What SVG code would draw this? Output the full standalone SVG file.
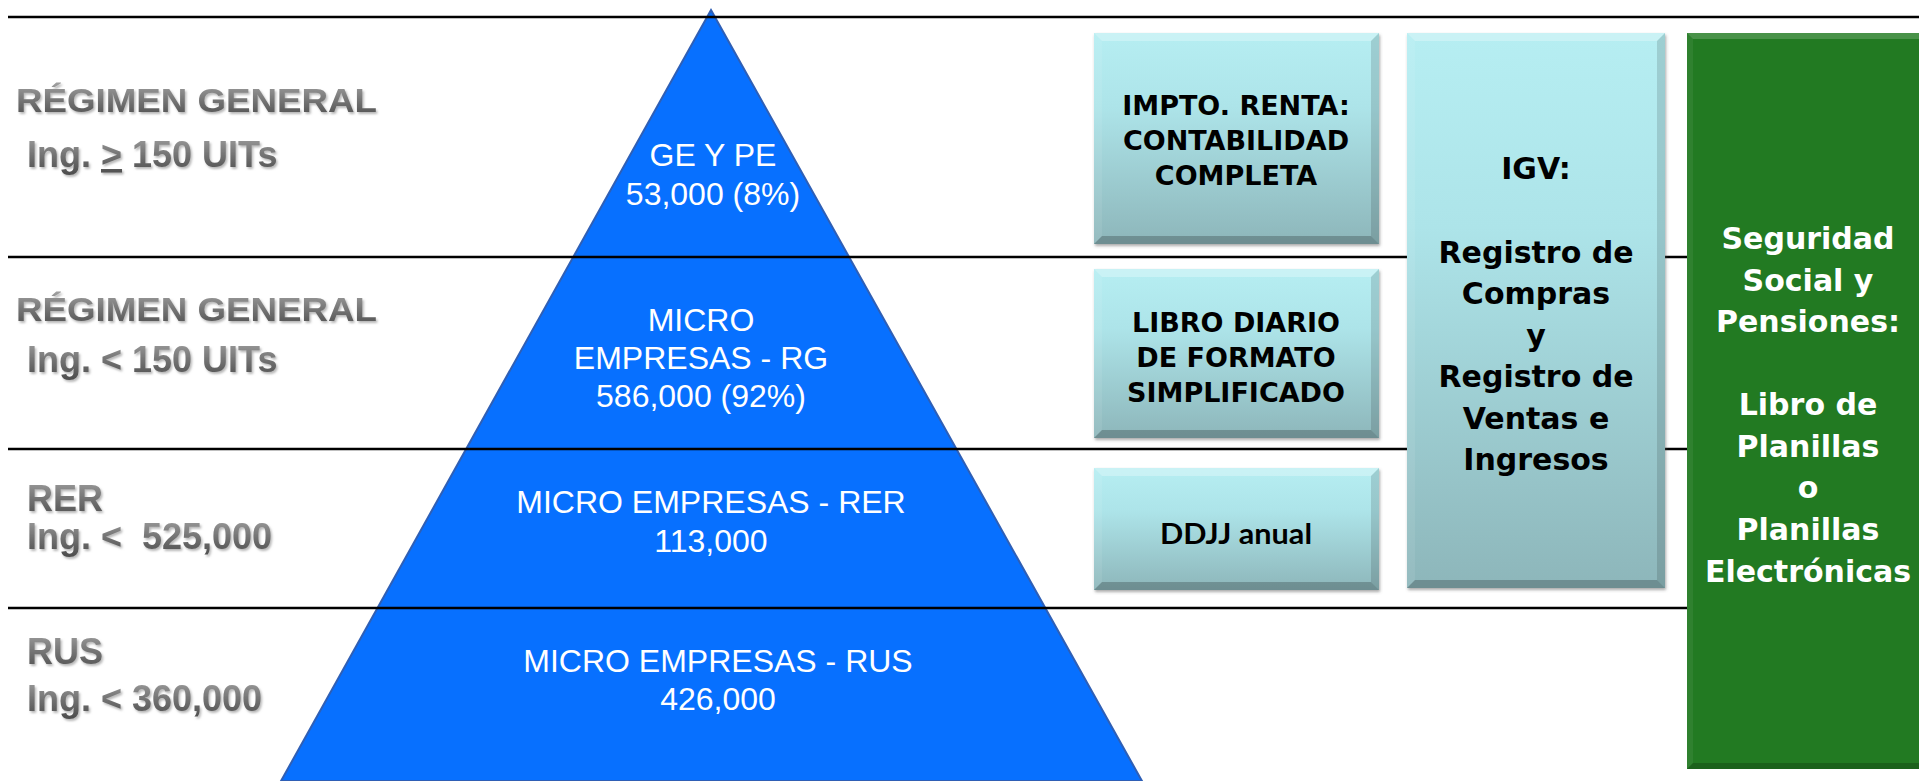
<svg xmlns="http://www.w3.org/2000/svg" width="1919" height="781" viewBox="0 0 1919 781">
<style>
.lbl{font-family:"Liberation Sans",Arial,sans-serif;font-weight:bold;fill:url(#grayGrad);filter:url(#lblShadow)}
.lbl1{font-size:33px}
.lbl2{font-size:36px}
.pyr{font-family:"Liberation Sans",Arial,sans-serif;font-size:32px;fill:#ffffff;text-anchor:middle}
.box{font-family:"DejaVu Sans",Verdana,sans-serif;font-weight:bold;fill:#000000;text-anchor:middle}
.b27{font-size:27px}
.b30{font-size:30px}
.ddjj{font-family:Lato,"Liberation Sans",sans-serif;font-weight:bold;font-size:29px;fill:#000;text-anchor:middle}
.green{font-family:"DejaVu Sans",Verdana,sans-serif;font-weight:bold;font-size:30px;fill:#ffffff;text-anchor:middle}
.sep{stroke:#000;stroke-width:2.5;fill:none}
.cyan{fill:url(#cyanGrad);filter:url(#boxShadow)}
.bt{fill:#ffffff;fill-opacity:0.28}
.bl{fill:#ffffff;fill-opacity:0.08}
.br{fill:#000000;fill-opacity:0.13}
.bb{fill:#000000;fill-opacity:0.22}
</style>
<defs>
<linearGradient id="grayGrad" x1="0" y1="0" x2="0" y2="1">
<stop offset="0" stop-color="#a2a2a2"/>
<stop offset="0.5" stop-color="#747474"/>
<stop offset="1" stop-color="#4c4c4c"/>
</linearGradient>
<linearGradient id="cyanGrad" x1="0" y1="0" x2="0" y2="1">
<stop offset="0" stop-color="#B6EEF2"/>
<stop offset="0.35" stop-color="#ADE4E9"/>
<stop offset="1" stop-color="#8DB6BA"/>
</linearGradient>
<filter id="lblShadow" x="-5%" y="-20%" width="110%" height="150%">
<feDropShadow dx="1.5" dy="2" stdDeviation="1" flood-color="#999999" flood-opacity="0.7"/>
</filter>
<filter id="boxShadow" x="-5%" y="-5%" width="110%" height="112%">
<feDropShadow dx="1" dy="2" stdDeviation="1.5" flood-color="#555555" flood-opacity="0.5"/>
</filter>
</defs>
<rect x="0" y="0" width="1919" height="781" fill="#ffffff"/>

<g id="pyramid">
<polygon points="711,10 1142,781 281,781" fill="#0770FF" stroke="#2F5FB5" stroke-width="2"/>
</g>

<g id="separators">
<line class="sep" x1="8" y1="17" x2="1919" y2="17"/>
<line class="sep" x1="8" y1="257" x2="1919" y2="257"/>
<line class="sep" x1="8" y1="449" x2="1919" y2="449"/>
<line class="sep" x1="8" y1="608" x2="1919" y2="608"/>
</g>

<g id="label-rg-high">
<text class="lbl lbl1" x="16" y="112" textLength="361" lengthAdjust="spacingAndGlyphs">RÉGIMEN GENERAL</text>
<text class="lbl lbl2" x="27" y="167">Ing. <tspan text-decoration="underline">&gt;</tspan> 150 UITs</text>
</g>
<g id="label-rg-low">
<text class="lbl lbl1" x="16" y="321" textLength="361" lengthAdjust="spacingAndGlyphs">RÉGIMEN GENERAL</text>
<text class="lbl lbl2" x="27" y="372">Ing. &lt; 150 UITs</text>
</g>
<g id="label-rer">
<text class="lbl lbl2" x="27" y="511">RER</text>
<text class="lbl lbl2" x="27" y="549" xml:space="preserve">Ing. &lt;  525,000</text>
</g>
<g id="label-rus">
<text class="lbl lbl2" x="27" y="664">RUS</text>
<text class="lbl lbl2" x="27" y="711">Ing. &lt; 360,000</text>
</g>

<g id="tier-ge-pe">
<text class="pyr" x="713" y="166">GE Y PE</text>
<text class="pyr" x="713" y="205">53,000 (8%)</text>
</g>
<g id="tier-micro-rg">
<text class="pyr" x="701" y="331">MICRO</text>
<text class="pyr" x="701" y="369">EMPRESAS - RG</text>
<text class="pyr" x="701" y="407">586,000 (92%)</text>
</g>
<g id="tier-micro-rer">
<text class="pyr" x="711" y="513">MICRO EMPRESAS - RER</text>
<text class="pyr" x="711" y="552">113,000</text>
</g>
<g id="tier-micro-rus">
<text class="pyr" x="718" y="672">MICRO EMPRESAS - RUS</text>
<text class="pyr" x="718" y="710">426,000</text>
</g>

<g id="box-impto">
<rect class="cyan" x="1094" y="33" width="285" height="211"/>
<polygon class="bt" points="1094,33 1379,33 1371,41 1102,41"/>
<polygon class="bl" points="1094,33 1102,41 1102,236 1094,244"/>
<polygon class="br" points="1379,33 1379,244 1371,236 1371,41"/>
<polygon class="bb" points="1094,244 1102,236 1371,236 1379,244"/>
<text class="box b27" x="1236" y="115">IMPTO. RENTA:</text>
<text class="box b27" x="1236" y="150">CONTABILIDAD</text>
<text class="box b27" x="1236" y="185">COMPLETA</text>
</g>

<g id="box-libro">
<rect class="cyan" x="1094" y="269" width="285" height="169"/>
<polygon class="bt" points="1094,269 1379,269 1371,277 1102,277"/>
<polygon class="bl" points="1094,269 1102,277 1102,430 1094,438"/>
<polygon class="br" points="1379,269 1379,438 1371,430 1371,277"/>
<polygon class="bb" points="1094,438 1102,430 1371,430 1379,438"/>
<text class="box b27" x="1236" y="332">LIBRO DIARIO</text>
<text class="box b27" x="1236" y="367">DE FORMATO</text>
<text class="box b27" x="1236" y="402">SIMPLIFICADO</text>
</g>

<g id="box-ddjj">
<rect class="cyan" x="1094" y="468" width="285" height="122"/>
<polygon class="bt" points="1094,468 1379,468 1371,476 1102,476"/>
<polygon class="bl" points="1094,468 1102,476 1102,582 1094,590"/>
<polygon class="br" points="1379,468 1379,590 1371,582 1371,476"/>
<polygon class="bb" points="1094,590 1102,582 1371,582 1379,590"/>
<text class="ddjj" x="1236" y="544" textLength="152" lengthAdjust="spacingAndGlyphs">DDJJ anual</text>
</g>

<g id="box-igv">
<rect class="cyan" x="1407" y="33" width="258" height="555"/>
<polygon class="bt" points="1407,33 1665,33 1657,41 1415,41"/>
<polygon class="bl" points="1407,33 1415,41 1415,580 1407,588"/>
<polygon class="br" points="1665,33 1665,588 1657,580 1657,41"/>
<polygon class="bb" points="1407,588 1415,580 1657,580 1665,588"/>
<text class="box b30" x="1536" y="179">IGV:</text>
<text class="box b30" x="1536" y="263">Registro de</text>
<text class="box b30" x="1536" y="304">Compras</text>
<text class="box b30" x="1536" y="346">y</text>
<text class="box b30" x="1536" y="387">Registro de</text>
<text class="box b30" x="1536" y="429">Ventas e</text>
<text class="box b30" x="1536" y="470">Ingresos</text>
</g>

<g id="box-seguridad">
<rect x="1687" y="33" width="232" height="736" fill="#227A22"/>
<polygon points="1687,33 1919,33 1919,39 1693,39" fill="#ffffff" fill-opacity="0.18"/>
<polygon points="1687,33 1693,39 1693,763 1687,769" fill="#ffffff" fill-opacity="0.06"/>
<polygon points="1687,769 1693,763 1919,763 1919,769" fill="#000000" fill-opacity="0.2"/>
<text class="green" x="1808" y="249">Seguridad</text>
<text class="green" x="1808" y="291">Social y</text>
<text class="green" x="1808" y="332">Pensiones:</text>
<text class="green" x="1808" y="415">Libro de</text>
<text class="green" x="1808" y="457">Planillas</text>
<text class="green" x="1808" y="498">o</text>
<text class="green" x="1808" y="540">Planillas</text>
<text class="green" x="1808" y="582">Electrónicas</text>
</g>
</svg>
